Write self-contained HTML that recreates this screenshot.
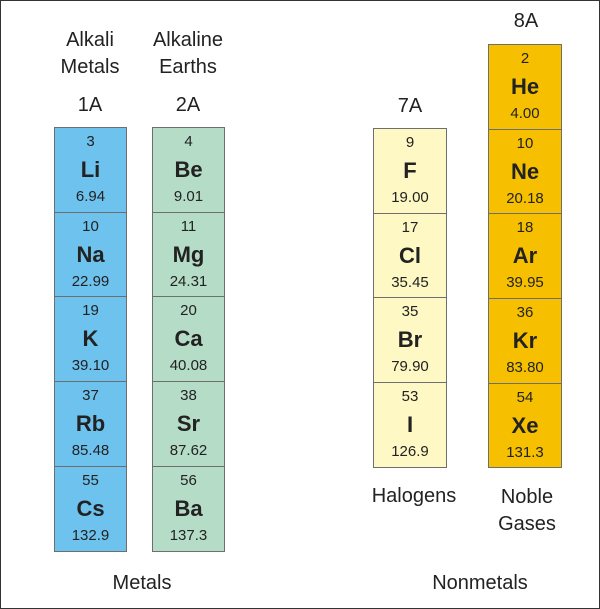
<!DOCTYPE html>
<html><head><style>
body{margin:0;width:600px;height:609px;background:#fff;font-family:"Liberation Sans",sans-serif;color:#222}
#f{position:absolute;left:0;top:0;width:598px;height:607px;border:1px solid #333}
.t{position:absolute;font-size:20px;text-align:center;width:140px;line-height:27px}
.c{position:absolute;border:1px solid #6e6e6e;box-sizing:border-box;text-align:center}
.c div{position:relative;box-sizing:border-box;height:84.7px;border-bottom:1px solid #6e6e6e}
.c div:last-child{border-bottom:none}
.n{position:absolute;left:0;right:0;top:5px;font-size:15px}
.s{position:absolute;left:0;right:0;top:29px;font-size:22px;font-weight:bold}
.m{position:absolute;left:0;right:0;top:60px;font-size:15px}
</style></head><body><div id="f"></div>
<div class="t" style="left:20px;top:27px">Alkali<br>Metals</div>
<div class="t" style="left:118px;top:27px">Alkaline<br>Earths</div>
<div class="t" style="left:20px;top:92px">1A</div>
<div class="t" style="left:118px;top:92px">2A</div>
<div class="t" style="left:340px;top:93px">7A</div>
<div class="t" style="left:456px;top:8px">8A</div>
<div class="t" style="left:344px;top:483px">Halogens</div>
<div class="t" style="left:457px;top:484px">Noble<br>Gases</div>
<div class="t" style="left:72px;top:570px">Metals</div>
<div class="t" style="left:410px;top:570px">Nonmetals</div>

<div class="c" style="left:54px;top:127px;width:73px;height:425px;background:#6ec2ee">
<div><span class="n">3</span><span class="s">Li</span><span class="m">6.94</span></div>
<div><span class="n">10</span><span class="s">Na</span><span class="m">22.99</span></div>
<div><span class="n">19</span><span class="s">K</span><span class="m">39.10</span></div>
<div><span class="n">37</span><span class="s">Rb</span><span class="m">85.48</span></div>
<div><span class="n">55</span><span class="s">Cs</span><span class="m">132.9</span></div></div>

<div class="c" style="left:152px;top:127px;width:73px;height:425px;background:#b5dcc7">
<div><span class="n">4</span><span class="s">Be</span><span class="m">9.01</span></div>
<div><span class="n">11</span><span class="s">Mg</span><span class="m">24.31</span></div>
<div><span class="n">20</span><span class="s">Ca</span><span class="m">40.08</span></div>
<div><span class="n">38</span><span class="s">Sr</span><span class="m">87.62</span></div>
<div><span class="n">56</span><span class="s">Ba</span><span class="m">137.3</span></div></div>

<div class="c" style="left:373px;top:128px;width:74px;height:340px;background:#fef8c4">
<div><span class="n">9</span><span class="s">F</span><span class="m">19.00</span></div>
<div><span class="n">17</span><span class="s">Cl</span><span class="m">35.45</span></div>
<div><span class="n">35</span><span class="s">Br</span><span class="m">79.90</span></div>
<div><span class="n">53</span><span class="s">I</span><span class="m">126.9</span></div></div>

<div class="c" style="left:488px;top:44px;width:74px;height:424px;background:#f6c000">
<div><span class="n">2</span><span class="s">He</span><span class="m">4.00</span></div>
<div><span class="n">10</span><span class="s">Ne</span><span class="m">20.18</span></div>
<div><span class="n">18</span><span class="s">Ar</span><span class="m">39.95</span></div>
<div><span class="n">36</span><span class="s">Kr</span><span class="m">83.80</span></div>
<div><span class="n">54</span><span class="s">Xe</span><span class="m">131.3</span></div></div>
</body></html>
